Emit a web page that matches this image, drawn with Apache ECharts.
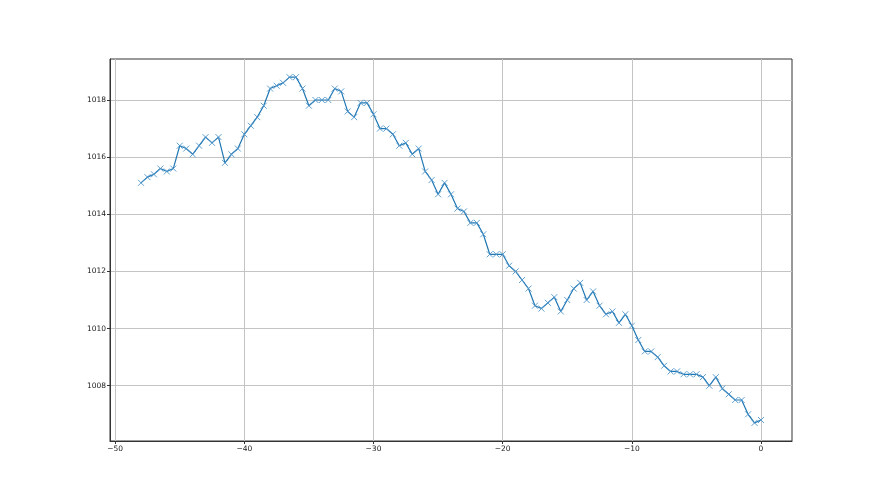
<!DOCTYPE html>
<html>
<head>
<meta charset="utf-8">
<script src="https://cdn.jsdelivr.net/npm/echarts@6/dist/echarts.min.js"></script>
<style>
html,body{margin:0;padding:0;background:#fff;}
#chart{width:880px;height:495px;}
</style>
</head>
<body>
<div id="chart"></div>
<script>
var xValues = [-48, -47.5, -47, -46.5, -46, -45.5, -45, -44.5, -44, -43.5, -43, -42.5, -42, -41.5, -41, -40.5,
  -40, -39.5, -39, -38.5, -38, -37.5, -37, -36.5, -36, -35.5, -35, -34.5, -34, -33.5, -33, -32.5,
  -32, -31.5, -31, -30.5, -30, -29.5, -29, -28.5, -28, -27.5, -27, -26.5, -26, -25.5, -25, -24.5,
  -24, -23.5, -23, -22.5, -22, -21.5, -21, -20.5, -20, -19.5, -19, -18.5, -18, -17.5, -17, -16.5,
  -16, -15.5, -15, -14.5, -14, -13.5, -13, -12.5, -12, -11.5, -11, -10.5, -10, -9.5, -9, -8.5,
  -8, -7.5, -7, -6.5, -6, -5.5, -5, -4.5, -4, -3.5, -3, -2.5, -2, -1.5, -1, -0.5, 0];
var pressure = [1015.1, 1015.3, 1015.4, 1015.6, 1015.5, 1015.6, 1016.4, 1016.3, 1016.1, 1016.4, 1016.7, 1016.5, 1016.7, 1015.8, 1016.1, 1016.3,
  1016.8, 1017.1, 1017.4, 1017.8, 1018.4, 1018.5, 1018.6, 1018.8, 1018.8, 1018.4, 1017.8, 1018.0, 1018.0, 1018.0, 1018.4, 1018.3,
  1017.6, 1017.4, 1017.9, 1017.9, 1017.5, 1017.0, 1017.0, 1016.8, 1016.4, 1016.5, 1016.1, 1016.3, 1015.5, 1015.2, 1014.7, 1015.1,
  1014.7, 1014.2, 1014.1, 1013.7, 1013.7, 1013.3, 1012.6, 1012.6, 1012.6, 1012.2, 1012.0, 1011.7, 1011.4, 1010.8, 1010.7, 1010.9,
  1011.1, 1010.6, 1011.0, 1011.4, 1011.6, 1011.0, 1011.3, 1010.8, 1010.5, 1010.6, 1010.2, 1010.5, 1010.1, 1009.6, 1009.2, 1009.2,
  1009.0, 1008.7, 1008.5, 1008.5, 1008.4, 1008.4, 1008.4, 1008.3, 1008.0, 1008.3, 1007.9, 1007.7, 1007.5, 1007.5, 1007.0, 1006.7, 1006.8];
var xTicks = [-50, -40, -30, -20, -10, 0];
var yTicks = [1008, 1010, 1012, 1014, 1016, 1018];

var seriesData = xValues.map(function (x, i) { return [x, pressure[i]]; });

var chart = echarts.init(document.getElementById('chart'), null, {renderer: 'canvas'});
var labelFont = {fontFamily: 'DejaVu Sans', fontSize: 7.5, color: '#222'};
chart.setOption({
  backgroundColor: '#ffffff',
  animation: false,
  grid: {left: 110, right: 88, top: 59, bottom: 54, show: true, borderColor: '#333', borderWidth: 1, containLabel: false},
  xAxis: {
    type: 'value', min: -50.4, max: 2.4,
    axisLine: {show: true, onZero: false, lineStyle: {color: '#333', width: 1}},
    axisTick: {show: true, inside: false, length: 3, lineStyle: {color: '#333', width: 1}, customValues: xTicks},
    axisLabel: Object.assign({customValues: xTicks, margin: 4, formatter: function (v) { return String(v).replace('-', '\u2212'); }}, labelFont),
    splitLine: {show: true, lineStyle: {color: '#c4c4c4', width: 1}}
  },
  yAxis: {
    type: 'value', min: 1006.065, max: 1019.435,
    axisLine: {show: true, onZero: false, lineStyle: {color: '#333', width: 1}},
    axisTick: {show: true, inside: false, length: 3, lineStyle: {color: '#333', width: 1}, customValues: yTicks},
    axisLabel: Object.assign({customValues: yTicks, margin: 4, formatter: function (v) { return String(v); }}, labelFont),
    splitLine: {show: true, lineStyle: {color: '#c4c4c4', width: 1}}
  },
  series: [{
    type: 'line',
    data: seriesData,
    symbol: 'path://M0,0L10,10M10,0L0,10',
    symbolSize: 6,
    showSymbol: true,
    lineStyle: {color: '#1f77b4', width: 1.2},
    itemStyle: {color: 'rgba(0,0,0,0)', borderColor: '#4f95c9', borderWidth: 0.9},
    emphasis: {disabled: true}
  }]
});
</script>
</body>
</html>
